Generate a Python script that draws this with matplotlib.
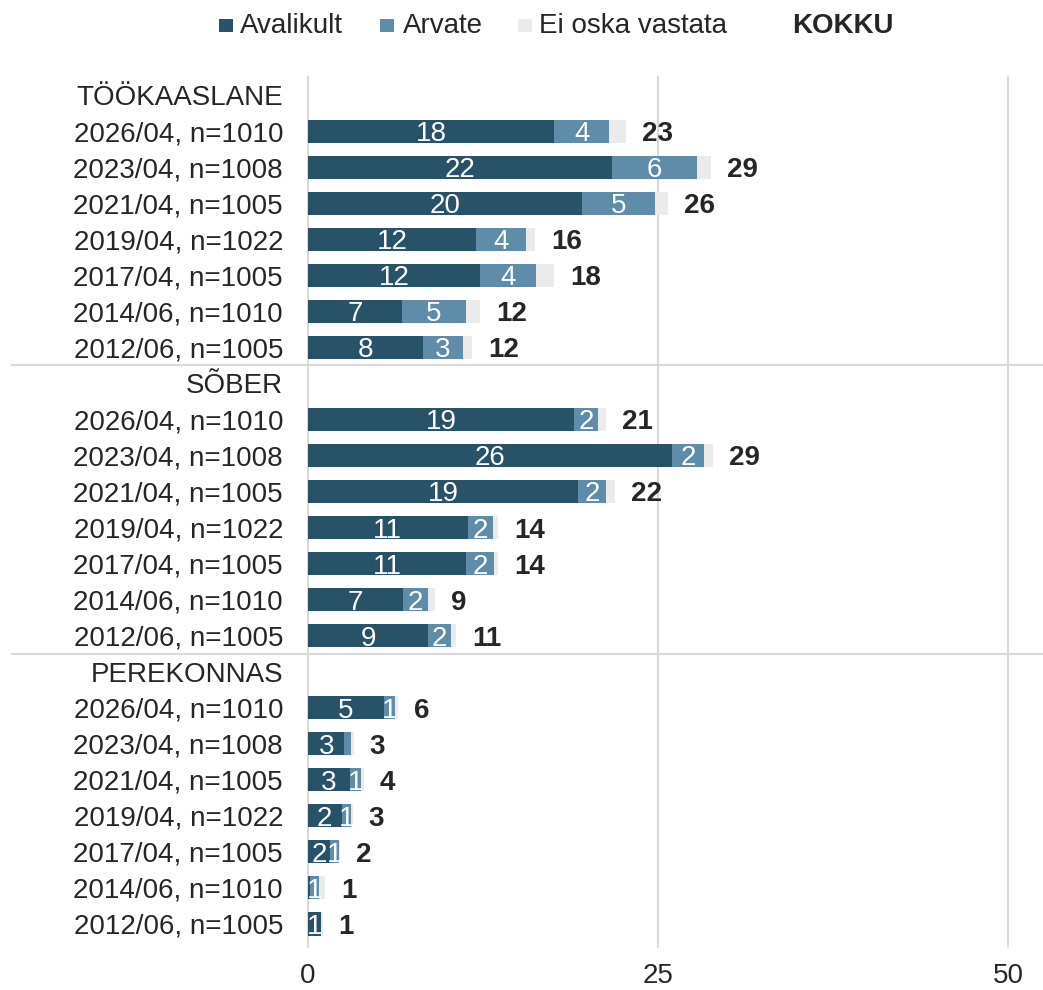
import matplotlib
matplotlib.use("Agg")
import matplotlib.pyplot as plt
from matplotlib.patches import Rectangle
import numpy as np

plt.rcParams['font.family'] = ['Liberation Sans', 'DejaVu Sans']

# ---------------- data ----------------
groups = ["TÖÖKAASLANE", "SÕBER", "PEREKONNAS"]
periods = ["2026/04, n=1010", "2023/04, n=1008", "2021/04, n=1005",
           "2019/04, n=1022", "2017/04, n=1005", "2014/06, n=1010",
           "2012/06, n=1005"]
series = ["Avalikult", "Arvate", "Ei oska vastata"]
total_label = "KOKKU"

tookaaslane_avalikult = [17.6, 21.7, 19.6, 12.0, 12.3, 6.7, 8.2]
tookaaslane_arvate = [3.9, 6.1, 5.2, 3.6, 4.0, 4.6, 2.9]
tookaaslane_ei = [1.2, 1.0, 0.9, 0.6, 1.3, 1.0, 0.6]
tookaaslane_kokku = [23, 29, 26, 16, 18, 12, 12]

sober_avalikult = [19.0, 26.0, 19.3, 11.4, 11.3, 6.8, 8.6]
sober_arvate = [1.7, 2.3, 2.0, 1.8, 2.0, 1.8, 1.6]
sober_ei = [0.6, 0.6, 0.6, 0.4, 0.3, 0.5, 0.4]
sober_kokku = [21, 29, 22, 14, 14, 9, 11]

perekonnas_avalikult = [5.4, 2.6, 3.0, 2.4, 1.6, 0.15, 0.9]
perekonnas_arvate = [0.8, 0.45, 0.8, 0.7, 0.6, 0.6, 0.05]
perekonnas_ei = [0.2, 0.2, 0.2, 0.1, 0.1, 0.45, 0.1]
perekonnas_kokku = [6, 3, 4, 3, 2, 1, 1]

x_ticks = [0, 25, 50]

# ---------------- style ----------------
colors = ["#275267", "#5e8ca9", "#ebebeb"]
text_color = "#262626"
grid_color = "#d9d9d9"
fs = 20

W, H = 1043, 990
fig = plt.figure(figsize=(W / 100, H / 100), dpi=100)
ax = fig.add_axes([308 / W, 1 - 942 / H, 735 / W, (942 - 77) / H])

data = [
    (tookaaslane_avalikult, tookaaslane_arvate, tookaaslane_ei, tookaaslane_kokku),
    (sober_avalikult, sober_arvate, sober_ei, sober_kokku),
    (perekonnas_avalikult, perekonnas_arvate, perekonnas_ei, perekonnas_kokku),
]

ytick_pos = []
ytick_lab = []
n_per = len(periods)
bar_h = 0.64
for g, (av, ar, ei, tot) in enumerate(data):
    base = g * (n_per + 1)
    ytick_pos.append(base)
    ytick_lab.append(groups[g])
    y = np.arange(n_per) + base + 1
    ytick_pos.extend(y)
    ytick_lab.extend(periods)
    av = np.array(av); ar = np.array(ar); ei = np.array(ei)
    ax.barh(y, av, height=bar_h, color=colors[0], zorder=2)
    ax.barh(y, ar, left=av, height=bar_h, color=colors[1], zorder=2)
    ax.barh(y, ei, left=av + ar, height=bar_h, color=colors[2], zorder=2)
    for i in range(n_per):
        for val, left in ((av[i], 0), (ar[i], av[i])):
            if round(val) >= 1:
                ax.text(left + val / 2, y[i], f"{val:.0f}", ha="center",
                        va="center_baseline", color="white", fontsize=fs,
                        zorder=3)
        ax.annotate(f"{tot[i]}", xy=(av[i] + ar[i] + ei[i], y[i]),
                    xytext=(11.5, 0), textcoords="offset points",
                    ha="left", va="center_baseline", fontsize=fs,
                    fontweight="bold", color=text_color, zorder=3)

n_rows = len(ytick_pos)
ax.set_ylim(n_rows - 0.5, -0.5)
ax.set_xlim(0, 52.5)
ax.set_yticks(ytick_pos)
ax.set_yticklabels(ytick_lab)
ax.set_xticks(x_ticks)
ax.tick_params(axis="y", length=0, pad=18, labelsize=fs, labelcolor=text_color)
ax.tick_params(axis="x", length=4, width=1.2, color=grid_color, pad=11,
               labelsize=fs, labelcolor=text_color)
for s in ax.spines.values():
    s.set_visible(False)
ax.xaxis.grid(True, color=grid_color, linewidth=1.5, zorder=0)
ax.set_axisbelow(True)
for ln in ax.get_xgridlines():
    ln.set_clip_on(False)

# group separators
for g in range(1, len(groups)):
    yy = g * (n_per + 1) - 0.5
    ax.plot([-0.403, 1.0], [yy, yy], transform=ax.get_yaxis_transform(),
            color=grid_color, linewidth=1.5, clip_on=False, zorder=1)

# legend (manual)
sq_x = [219, 380, 518]
txt_x = [240, 403, 539]
for k in range(3):
    fig.add_artist(Rectangle((sq_x[k] / W, 1 - 32 / H), 13.5 / W, 13 / H,
                             transform=fig.transFigure, facecolor=colors[k],
                             edgecolor="none"))
    fig.text(txt_x[k] / W, 1 - 33 / H, series[k], fontsize=fs,
             color=text_color, ha="left", va="baseline")
fig.text(792 / W, 1 - 33 / H, total_label, fontsize=fs, fontweight="bold",
         color=text_color, ha="left", va="baseline")

fig.savefig("out.png", dpi=100)
